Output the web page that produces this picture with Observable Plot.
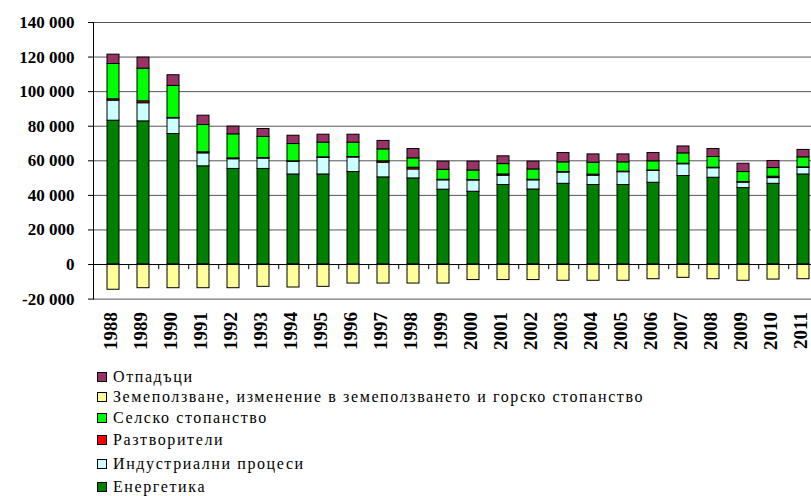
<!DOCTYPE html>
<html>
<head>
<meta charset="utf-8">
<script src="https://cdn.jsdelivr.net/npm/d3@7"></script>
<script src="https://cdn.jsdelivr.net/npm/@observablehq/plot@0.6"></script>
<style>
  html, body { margin: 0; padding: 0; background: #fff; }
  #wrap { position: relative; width: 811px; height: 496px; overflow: hidden; background: #fff; }
  #chart { position: absolute; left: 0; top: 0; width: 811px; overflow: hidden; }
  .leg { position: absolute; left: 97px; font-family: 'Liberation Serif'; font-size: 16px; letter-spacing: 1.6px; color: #000; white-space: nowrap; line-height: 18px; }
  .leg span.sw { display: inline-block; width: 8px; height: 8px; border: 1px solid #000; margin-right: 6px; vertical-align: 0px; }
</style>
</head>
<body>
<div id="wrap">
  <div id="chart"></div>
  <div id="legend"></div>
</div>
<script>
// ---- data ----
const years = ["1988","1989","1990","1991","1992","1993","1994","1995","1996","1997","1998","1999","2000","2001","2002","2003","2004","2005","2006","2007","2008","2009","2010","2011"];
const energy      = [83200,82800,75500,56800,55300,55300,52100,52100,53500,50400,49800,43300,42100,46000,43400,46700,46000,46000,47300,51200,50200,44200,46700,52100];
const industrial  = [11600,10500,9000,7500,5600,6000,7300,9600,8400,8500,5200,5400,6500,5400,5300,6500,5400,7400,6800,6800,5500,3200,3300,3800];
const solvents    = [800,1100,300,600,500,300,300,300,300,800,1000,300,300,700,300,300,600,300,300,300,300,300,800,300];
const agriculture = [20400,18900,18500,15800,13900,12200,10000,8500,8300,6900,5400,5800,5500,6000,6000,5600,6900,5400,5300,6000,6200,5800,5000,5800];
const waste       = [5400,6400,6200,5400,4500,4600,4800,4600,4600,4900,5400,4700,5100,4500,4500,5400,4800,4600,4800,4000,4600,4800,4100,4300];
const lulucf      = [-14600,-13700,-13700,-13700,-13700,-12900,-13300,-12900,-11000,-11000,-11000,-11000,-9000,-9000,-9000,-9400,-9400,-9400,-8500,-7700,-8500,-9400,-8700,-8500];
const yTicks = [-20000,0,20000,40000,60000,80000,100000,120000,140000];

const sWaste = "Отпадъци";
const sLand = "Земеползване, изменение в земеползването и горско стопанство";
const sAgri = "Селско стопанство";
const sSolv = "Разтворители";
const sInd = "Индустриални процеси";
const sEn = "Енергетика";
const legendOrder = [sWaste, sLand, sAgri, sSolv, sInd, sEn];
const stackOrder = [sEn, sInd, sSolv, sAgri, sWaste, sLand];
const colors = {
  [sWaste]: "#993366", [sLand]: "#FFFF99", [sAgri]: "#00FF00",
  [sSolv]: "#FF0000", [sInd]: "#CCFFFF", [sEn]: "#008000"
};
const seriesValues = {
  [sEn]: energy, [sInd]: industrial, [sSolv]: solvents,
  [sAgri]: agriculture, [sWaste]: waste, [sLand]: lulucf
};

const rows = [];
for (const s of stackOrder) {
  years.forEach((y, i) => rows.push({year: y, series: s, value: seriesValues[s][i]}));
}

const fmt = v => (v < 0 ? "-" : "") + String(Math.abs(v)).replace(/\B(?=(\d{3})+(?!\d))/g, " ");

const H = 362;
const chart = Plot.plot({
  width: 811,
  height: H,
  marginLeft: 93,
  marginRight: 0,
  marginTop: 22,
  marginBottom: H - 298.6,
  style: {background: "transparent"},
  x: {domain: years, range: [92, 823], paddingInner: 0.6, paddingOuter: 0.3, label: null},
  y: {domain: [-20000, 140000], range: [298.6, 22], label: null},
  color: {domain: stackOrder, range: stackOrder.map(s => colors[s])},
  marks: [
    Plot.ruleY(yTicks.filter(t => t !== 0), {stroke: "#555", strokeWidth: 1}),
    Plot.barY(rows, {
      x: "year", y: "value", fill: "series", order: stackOrder,
      stroke: "#000", strokeWidth: 1
    }),
    Plot.ruleY([0], {stroke: "#000", strokeWidth: 1}),
    Plot.ruleX(years, {x: d => d, y1: 0, y2: -3000, dx: 15.23, stroke: "#000", strokeWidth: 1}),
    Plot.frame({anchor: "left", stroke: "#000"}),
    Plot.axisY({
      ticks: yTicks, tickFormat: fmt, tickSize: 5, tickPadding: 14,
      fontSize: 17, fontWeight: "bold", fontFamily: "'Liberation Serif'",
      letterSpacing: 1.1, fill: "#000", label: null
    }),
    Plot.axisX({
      tickRotate: -90, tickSize: 0, tickPadding: 13,
      fontSize: 19, fontWeight: "bold", fontFamily: "'Liberation Serif'",
      fill: "#000", label: null, dx: -3
    })
  ]
});
document.getElementById("chart").appendChild(chart);

// ---- legend ----
const legYs = [378.3, 398, 418.7, 441.3, 465, 488];
const legend = document.getElementById("legend");
legendOrder.forEach((s, i) => {
  const d = document.createElement("div");
  d.className = "leg";
  d.style.top = (legYs[i] - 10) + "px";
  const sw = document.createElement("span");
  sw.className = "sw";
  sw.style.background = colors[s];
  d.appendChild(sw);
  d.appendChild(document.createTextNode(s));
  legend.appendChild(d);
});
</script>
</body>
</html>
